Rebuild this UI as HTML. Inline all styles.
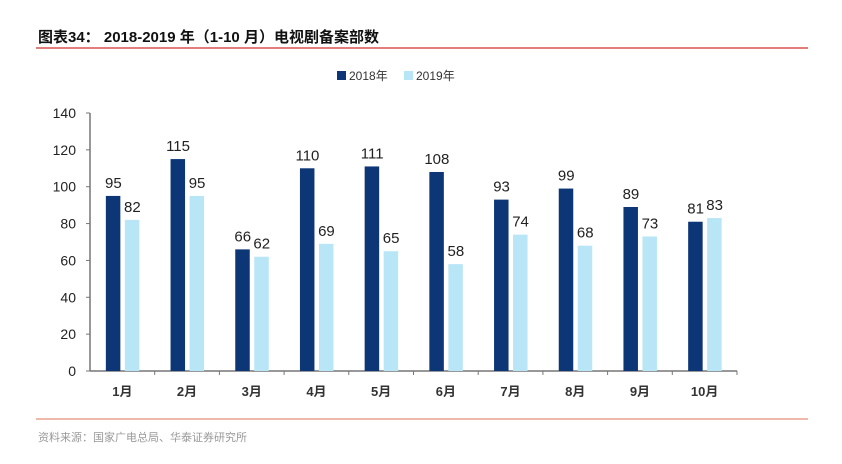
<!DOCTYPE html>
<html><head><meta charset="utf-8"><style>
body{margin:0;background:#fff;width:842px;height:459px;overflow:hidden;font-family:"Liberation Sans","Noto Sans CJK SC",sans-serif;}
</style></head><body>
<svg width="842" height="459" xmlns="http://www.w3.org/2000/svg">
<text x="38" y="42" font-size="15" font-weight="bold" fill="#111" font-family="Liberation Sans,Noto Sans CJK SC,sans-serif">图表34：  2018-2019 年（1-10 月）电视剧备案部数</text>
<line x1="36" y1="48" x2="808" y2="48" stroke="#d9534f" stroke-width="1.5"/>
<g>
<rect x="337" y="71" width="9" height="9" fill="#0d3677"/>
<text x="349" y="80" font-size="12" fill="#333">2018年</text>
<rect x="404" y="71" width="9" height="9" fill="#b9e6f6"/>
<text x="416" y="80" font-size="12" fill="#333">2019年</text>
</g>
<g id="plot"></g>
<line x1="36" y1="419" x2="808" y2="419" stroke="#e8a090" stroke-width="1.5"/>
<text x="38" y="441" font-size="11" fill="#999">资料来源：国家广电总局、华泰证券研究所</text>
</svg>
<script>
const categories=["1月","2月","3月","4月","5月","6月","7月","8月","9月","10月"];
const s2018=[95,115,66,110,111,108,93,99,89,81];
const s2019=[82,95,62,69,65,58,74,68,73,83];
const yTicks=[0,20,40,60,80,100,120,140];
const NS="http://www.w3.org/2000/svg";
const g=document.getElementById('plot');
const x0=90,bw=64.7,y0=371,yTop=113,yMax=140;
const y=v=>y0-(v/yMax)*(y0-yTop);
const xc=i=>x0+bw*(i+0.5);
function mk(t,a){const e=document.createElementNS(NS,t);for(const k in a)e.setAttribute(k,a[k]);g.appendChild(e);return e;}
let ax=mk('line',{x1:x0,y1:yTop,x2:x0,y2:y0,stroke:'#777','stroke-width':1.5});


let bx=mk('line',{x1:x0,y1:y0,x2:x0+bw*categories.length,y2:y0,stroke:'#777','stroke-width':1.5});


yTicks.forEach(v=>{
 let t=mk('line',{x1:x0-4,y1:y(v),x2:x0,y2:y(v),stroke:'#777'});
 
 
 let l=mk('text',{x:x0-14,y:y(v)+5,'font-size':14,'text-anchor':'end',fill:'#222'});
 l.textContent=v;
 
 
});
categories.forEach((c,i)=>{
 let t=mk('line',{x1:x0+bw*(i+1),y1:y0,x2:x0+bw*(i+1),y2:y0+4,stroke:'#777'});
 
 
 let l=mk('text',{x:xc(i),y:y0+25,'font-size':13,'font-weight':'bold','text-anchor':'middle',fill:'#333'});
 l.textContent=c;
 
 
 let b1=mk('rect',{x:xc(i)-16.5,y:y(s2018[i]),width:14.5,height:y0-y(s2018[i]),fill:'#0d3677'});
 
 
 let b2=mk('rect',{x:xc(i)+2.5,y:y(s2019[i]),width:14.5,height:y0-y(s2019[i]),fill:'#b9e6f6'});
 
 
 let v1=mk('text',{x:xc(i)-9,y:y(s2018[i])-8,'font-size':15,'text-anchor':'middle',fill:'#222'});
 v1.textContent=s2018[i];
 
 
 let v2=mk('text',{x:xc(i)+10,y:y(s2019[i])-8,'font-size':15,'text-anchor':'middle',fill:'#222'});
 v2.textContent=s2019[i];
 
 
});
</script>
</body></html>
